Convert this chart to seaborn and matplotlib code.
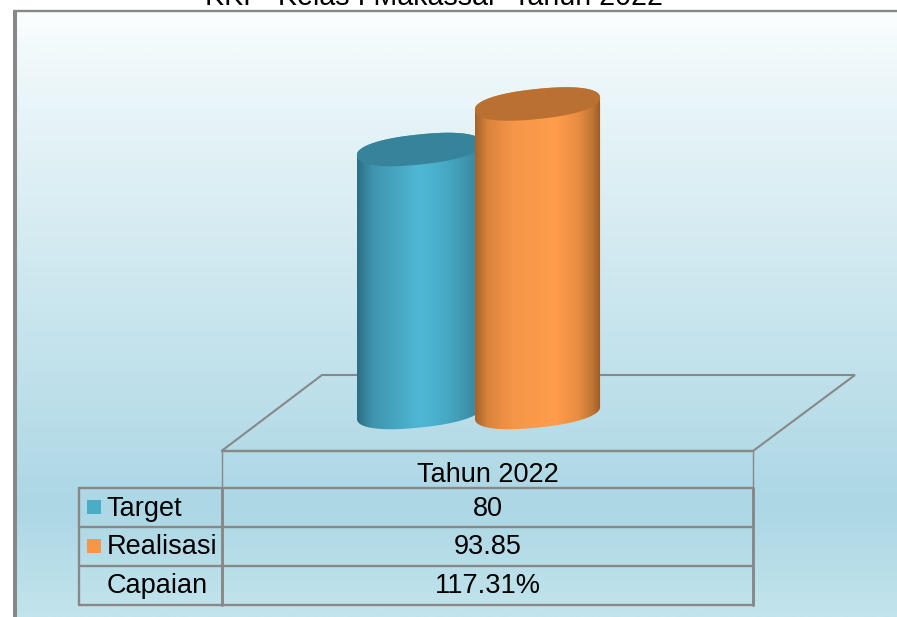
import numpy as np
import matplotlib
matplotlib.use("Agg")
import matplotlib.pyplot as plt
from matplotlib.colors import LinearSegmentedColormap
from matplotlib.patches import Polygon, Rectangle
import seaborn as sns

# ---- data ----
title = "KKP  Kelas I Makassar  Tahun 2022"
column_label = "Tahun 2022"
series_names = ["Target", "Realisasi"]
series_values = [80, 93.85]
capaian_label = "Capaian"
capaian_value = 117.31

# ---- styling ----
base_colors = ["#4bacc6", "#f79646"]
top_colors = ["#38839c", "#bb7033"]
body_stops = [
    [(0.0, "#2c6d84"), (0.12, "#3f93ad"), (0.3, "#46a5c0"), (0.5, "#4fb8d6"),
     (0.72, "#47a9c4"), (0.94, "#3c8ba4"), (1.0, "#2f7189")],
    [(0.0, "#a5622a"), (0.1, "#d9843c"), (0.3, "#f59648"), (0.64, "#ff9d4a"),
     (0.82, "#e98d42"), (0.94, "#bd7434"), (1.0, "#96592a")],
]
GRAY = "#888888"

sns.set_style("white")
plt.rcParams["font.family"] = ["Liberation Sans", "DejaVu Sans"]

W, H = 897, 617
fig = plt.figure(figsize=(W / 100, H / 100), dpi=100, facecolor="white")

# pixel-space layer: background, floor, table
bg = fig.add_axes([0, 0, 1, 1], zorder=0)
bg.set_xlim(0, W)
bg.set_ylim(H, 0)
bg.axis("off")
bg_cmap = LinearSegmentedColormap.from_list(
    "bg", [(0.0, "#fbfefe"), (0.08, "#eff8fa"), (0.82, "#acd7e5"), (1.0, "#c2e4ec")]
)
bg.imshow(np.linspace(0, 1, 400)[:, None], cmap=bg_cmap, aspect="auto",
          extent=[15, W, H, 11], zorder=0)
bg.set_xlim(0, W)
bg.set_ylim(H, 0)

bg.plot([14.5, 14.5], [10, H], color=GRAY, lw=2.9, solid_capstyle="butt", zorder=1)
bg.plot([13, W], [10.5, 10.5], color=GRAY, lw=1.7, solid_capstyle="butt", zorder=1)

# floor
bg.add_patch(Polygon([(221.5, 451), (322, 375), (855, 375), (753, 451)], closed=True,
                     fill=False, edgecolor=GRAY, lw=1.5, zorder=1))
# table
rows_y = [488, 527, 566, 604.5]
bg.plot([221.5, 753], [451, 451], color=GRAY, lw=1.7, zorder=1)
for y in rows_y:
    bg.plot([79, 753], [y, y], color=GRAY, lw=1.7, zorder=1)
bg.plot([79, 79], [488, 604.5], color=GRAY, lw=1.7, zorder=1)
bg.plot([221.5, 221.5], [451, 488], color=GRAY, lw=1.0, zorder=1)
bg.plot([221.5, 221.5], [488, 605], color=GRAY, lw=2.1, zorder=1)
bg.plot([753, 753], [451, 488], color=GRAY, lw=1.0, zorder=1)
bg.plot([753, 753], [488, 605], color=GRAY, lw=2.1, zorder=1)

FS = 19.5
bg.text(487.5, 475, column_label, ha="center", va="center", fontsize=FS, color="black")
row_names = series_names + [capaian_label]
row_vals = [f"{series_values[0]:g}", f"{series_values[1]:.2f}", f"{capaian_value:.2f}%"]
for y, name, val in zip([508.5, 547, 586], row_names, row_vals):
    bg.text(106.5, y, name, ha="left", va="center", fontsize=FS, color="black")
    bg.text(487.5, y, val, ha="center", va="center", fontsize=FS, color="black")
for y, c in zip([500, 539], base_colors):
    bg.add_patch(Rectangle((87, y), 14, 14, color=c, lw=0, zorder=2))

bg.text(434, 5, title, ha="center", va="baseline", fontsize=20.6, color="black")

# data layer: cylinders from a seaborn bar chart
ax = fig.add_axes([0, 0, 1, 1], zorder=1)
ax.patch.set_visible(False)
PX_X, PX_Y = 118.0, 3.2875
X0, Y0 = 419.5, 412.5
sns.barplot(x=series_names, y=series_values, hue=series_names,
            palette=base_colors, width=125 / PX_X, legend=False, ax=ax)
ax.set_xlim((0 - X0) / PX_X, (W - X0) / PX_X)
ax.set_ylim((Y0 - H) / PX_Y, Y0 / PX_Y)
ax.axis("off")

A, B, TILT = 62.9, 15.0, np.radians(6.0)
ROUND = 0.88


def ellipse(cx, y_value, t):
    """Slightly squared, tilted ellipse around a bar end, in data units."""
    c, s = np.cos(t), np.sin(t)
    c = np.sign(c) * np.abs(c) ** ROUND
    s = np.sign(s) * np.abs(s) ** ROUND
    dx = A * c * np.cos(TILT) - B * s * np.sin(TILT)
    dy = A * c * np.sin(TILT) + B * s * np.cos(TILT)
    return np.column_stack([cx + dx / PX_X, y_value + dy / PX_Y])


t_left = np.pi
t_lower = np.linspace(t_left, t_left + np.pi, 200)
t_upper = np.linspace(t_left + np.pi, t_left + 2 * np.pi, 200)
t_all = np.linspace(0, 2 * np.pi, 400)

for i, bar in enumerate(ax.patches[:2]):
    z = 2 + 3 * i
    x, w, h = bar.get_x(), bar.get_width(), bar.get_height()
    cx = x + w / 2
    # body: lower arc at the base, straight sides, and the far arc of the top
    body = np.vstack([ellipse(cx, 0, t_lower), ellipse(cx, h, t_upper)])
    clip = Polygon(body, closed=True, transform=ax.transData)
    bar.set_zorder(z)
    bar.set_clip_path(clip)
    cmap = LinearSegmentedColormap.from_list(f"c{i}", body_stops[i])
    im = ax.imshow(np.linspace(0, 1, 256)[None, :], cmap=cmap, aspect="auto",
                   extent=[x, x + w, -20, h + 20], zorder=z + 0.5)
    im.set_clip_path(clip)
    ax.add_patch(Polygon(ellipse(cx, h, t_all), closed=True, facecolor=top_colors[i],
                         edgecolor="none", zorder=z + 1))

ax.set_xlim((0 - X0) / PX_X, (W - X0) / PX_X)
ax.set_ylim((Y0 - H) / PX_Y, Y0 / PX_Y)

fig.savefig("out.png", dpi=100, facecolor="white")
